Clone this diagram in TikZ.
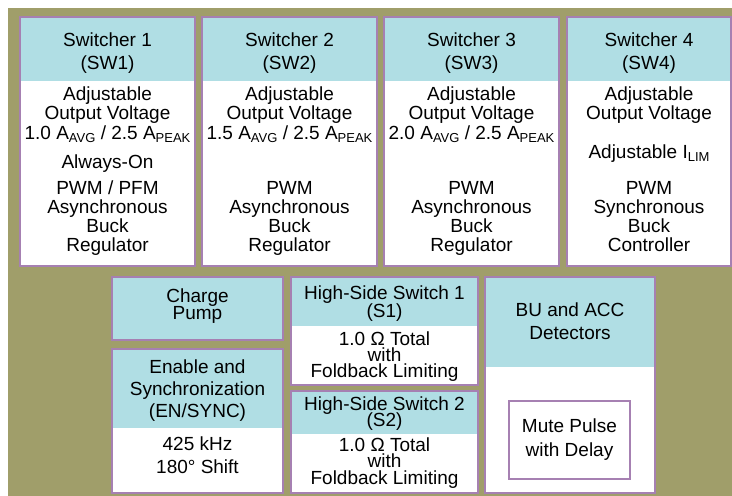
\documentclass[tikz,border=0pt]{standalone}
\usepackage{fontspec}
\setmainfont{Liberation Sans}
\usetikzlibrary{positioning}
\definecolor{olivebg}{RGB}{160,158,106}
\definecolor{hdrblue}{RGB}{176,222,228}
\definecolor{edgepurple}{RGB}{166,128,178}
\newcommand{\lowtxt}[1]{\raisebox{-3bp}{\fontsize{13bp}{13bp}\selectfont #1}}
\tikzset{
  hdr/.style={fill=hdrblue},
  body/.style={fill=white},
  edge/.style={draw=edgepurple, line width=2bp},
  txt/.style={anchor=base, inner sep=0pt, font=\fontsize{19bp}{19bp}\selectfont},
}

\begin{document}
\begin{tikzpicture}[x=1bp,y=-1bp]
	\useasboundingbox (0,0) rectangle (732,496);
	\fill[olivebg] (8,8) rectangle (732,496);
	% switcher boxes
	\foreach \xl/\xr in {20/195,202/377,384/559,567/731}
	{ \fill[hdr] (\xl,17) rectangle (\xr,81);
	  \fill[body] (\xl,81) rectangle (\xr,266);
	  \draw[edge] (\xl,17) rectangle (\xr,266);
	}
	\foreach \n/\xc in {1/107.5,2/289.5,3/471.5,4/649}
	{ \node[txt] (sw\n t) at (\xc,47) {Switcher \n};
	  \node[txt] (sw\n s) at (\xc,69.5) {(SW\n)};
	  \node[txt] (sw\n a) at (\xc,101) {Adjustable};
	  \node[txt] (sw\n o) at (\xc,120) {Output Voltage};
	  \node[txt] (sw\n b) at (\xc,233) {Buck};
	}
	\node[txt] (sw1c) at (107.5,139.5) {1.0 A\lowtxt{AVG} / 2.5 A\lowtxt{PEAK}};
	\node[txt] (sw2c) at (289.5,139.5) {1.5 A\lowtxt{AVG} / 2.5 A\lowtxt{PEAK}};
	\node[txt] (sw3c) at (471.5,139.5) {2.0 A\lowtxt{AVG} / 2.5 A\lowtxt{PEAK}};
	\node[txt] (sw4c) at (649,159) {Adjustable I\lowtxt{LIM}};
	\node[txt] (sw1on) at (107.5,169) {Always-On};
	\node[txt] (sw1m) at (107.5,195) {PWM / PFM};
	\node[txt] (sw2m) at (289.5,195) {PWM};
	\node[txt] (sw3m) at (471.5,195) {PWM};
	\node[txt] (sw4m) at (649,195) {PWM};
	\node[txt] (sw1y) at (107.5,214) {Asynchronous};
	\node[txt] (sw2y) at (289.5,214) {Asynchronous};
	\node[txt] (sw3y) at (471.5,214) {Asynchronous};
	\node[txt] (sw4y) at (649,214) {Synchronous};
	\node[txt] (sw1r) at (107.5,252) {Regulator};
	\node[txt] (sw2r) at (289.5,252) {Regulator};
	\node[txt] (sw3r) at (471.5,252) {Regulator};
	\node[txt] (sw4r) at (649,252) {Controller};
	% charge pump and enable
	\fill[hdr] (112,277) rectangle (283,340);
	\draw[edge] (112,277) rectangle (283,340);
	\node[txt] (cp1) at (197.5,302.5) {Charge};
	\node[txt] (cp2) at (197.5,319) {Pump};
	\fill[hdr] (112,349) rectangle (283,428);
	\fill[body] (112,428) rectangle (283,493);
	\draw[edge] (112,349) rectangle (283,493);
	\node[txt] (en1) at (197.5,373) {Enable and};
	\node[txt] (en2) at (197.5,395.5) {Synchronization};
	\node[txt] (en3) at (197.5,417.5) {(EN/SYNC)};
	\node[txt] (en4) at (197.5,450) {425 kHz};
	\node[txt] (en5) at (197.5,473) {180° Shift};
	% high-side switches
	\foreach \n/\yt/\yh/\yb in {1/277/326/385,2/391/434/493}
	{ \fill[hdr] (291,\yt) rectangle (478,\yh);
	  \fill[body] (291,\yh) rectangle (478,\yb);
	  \draw[edge] (291,\yt) rectangle (478,\yb);
	}
	\node[txt] (hs1a) at (384.5,299) {High-Side Switch 1};
	\node[txt] (hs1b) at (384.5,317) {(S1)};
	\node[txt] (hs1c) at (384.5,345) {1.0 Ω Total};
	\node[txt] (hs1d) at (384.5,361) {with};
	\node[txt] (hs1e) at (384.5,377.5) {Foldback Limiting};
	\node[txt] (hs2a) at (384.5,410.5) {High-Side Switch 2};
	\node[txt] (hs2b) at (384.5,426.5) {(S2)};
	\node[txt] (hs2c) at (384.5,451.5) {1.0 Ω Total};
	\node[txt] (hs2d) at (384.5,467.5) {with};
	\node[txt] (hs2e) at (384.5,484.5) {Foldback Limiting};
	% detectors
	\fill[hdr] (485,277) rectangle (655,367);
	\fill[body] (485,367) rectangle (655,493);
	\draw[edge] (485,277) rectangle (655,493);
	\node[txt] (bu1) at (570,316) {BU and ACC};
	\node[txt] (bu2) at (570,339) {Detectors};
	\draw[edge, line width=1.4bp, fill=white] (509,401) rectangle (630,479);
	\node[txt] (mp1) at (569.5,432) {Mute Pulse};
	\node[txt] (mp2) at (569.5,456.5) {with Delay};
\end{tikzpicture}
\end{document}
